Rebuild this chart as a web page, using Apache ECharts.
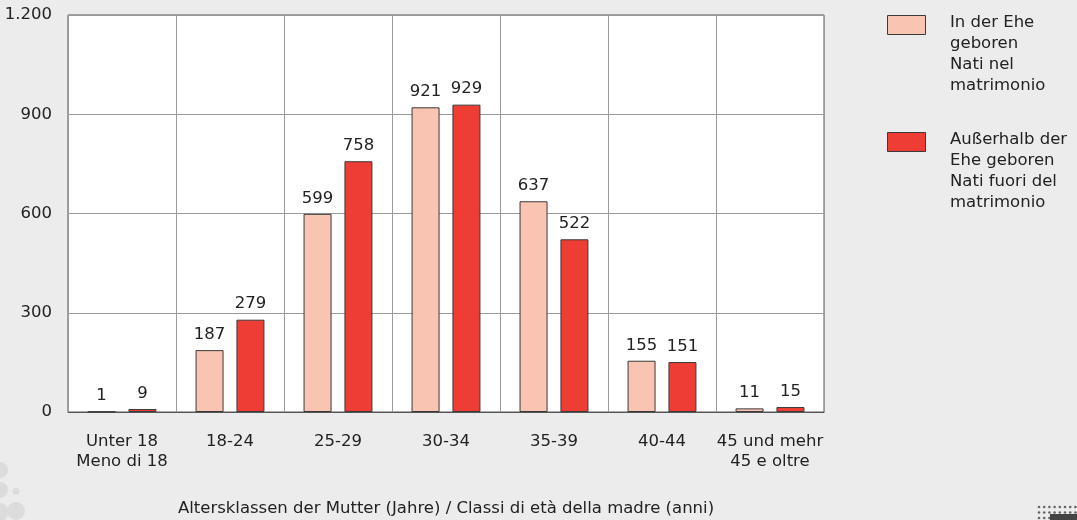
<!DOCTYPE html>
<html>
<head>
    <meta charset="UTF-8">
    <title>Geburten nach Altersklassen der Mutter</title>
    <script src="https://cdn.jsdelivr.net/npm/echarts/dist/echarts.min.js"></script>
    <style>
        html, body { margin: 0; padding: 0; background: #ececec; }
        #chart { width: 1077px; height: 520px; }
    </style>
</head>
<body>
    <div id="chart"></div>

    <script>
        // Daten
        const categories = ['Unter 18\nMeno di 18', '18-24', '25-29', '30-34', '35-39', '40-44', '45 und mehr\n45 e oltre'];
        const inDerEhe = [1, 187, 599, 921, 637, 155, 11];
        const ausserhalb = [9, 279, 758, 929, 522, 151, 15];
        const yTicks = [0, 300, 600, 900, 1200];
        const seriesNames = [
            'In der Ehe\ngeboren\nNati nel\nmatrimonio',
            'Außerhalb der\nEhe geboren\nNati fuori del\nmatrimonio'
        ];
        const colors = ['#f9c4b1', '#ee3d34'];

        const font = 'DejaVu Sans, Verdana, sans-serif';
        const fs = 16.5;
        const myChart = echarts.init(document.getElementById('chart'));

        const labelOpt = {
            show: true,
            position: 'top',
            distance: 7,
            color: '#222',
            fontSize: fs,
            fontFamily: font
        };

        // Legende als Grafik (Icon oben bündig mit erster Zeile)
        const legendGraphic = [];
        seriesNames.forEach((name, i) => {
            const top = 15 + i * 117;
            legendGraphic.push({
                type: 'rect',
                left: 887, top: top,
                shape: { width: 38, height: 19 },
                style: { fill: colors[i], stroke: '#3a3a3a', lineWidth: 1 }
            });
            legendGraphic.push({
                type: 'text',
                left: 950, top: top - 3,
                style: {
                    text: name, fill: '#222', fontSize: fs, fontFamily: font,
                    lineHeight: 21
                }
            });
        });

        // Deko-Kreise unten links
        const deco = [
            { cx: 0, cy: 470, r: 8 }, { cx: 0, cy: 490, r: 8 },
            { cx: 16, cy: 491, r: 3.5 }, { cx: 0, cy: 512, r: 9 },
            { cx: 16, cy: 511, r: 9 }
        ].map(c => ({
            type: 'circle', shape: c, silent: true,
            style: { fill: '#dcdcdc' }
        }));

        // Punktraster unten rechts
        const dots = [];
        for (let row = 0; row < 3; row++) {
            for (let col = 0; col < 8; col++) {
                dots.push({
                    type: 'circle', silent: true,
                    shape: { cx: 1039 + col * 5.2, cy: 507 + row * 5.5, r: 1.3 },
                    style: { fill: '#666' }
                });
            }
        }
        dots.push({
            type: 'rect', silent: true,
            shape: { x: 1050, y: 514, width: 27, height: 6 },
            style: { fill: '#444' }
        });

        const option = {
            backgroundColor: '#ececec',
            animation: false,
            textStyle: { fontFamily: font },
            grid: {
                left: 68, right: 253, top: 15, bottom: 108,
                outerBoundsMode: 'none',
                containLabel: false,
                show: true,
                backgroundColor: '#ffffff',
                borderColor: '#555',
                borderWidth: 1
            },
            xAxis: {
                type: 'category',
                data: categories,
                axisLine: { lineStyle: { color: '#555' } },
                axisTick: { show: false },
                splitLine: { show: true, lineStyle: { color: '#9a9a9a' } },
                axisLabel: {
                    color: '#222', fontSize: fs, lineHeight: 20, margin: 20,
                    interval: 0
                },
                name: 'Altersklassen der Mutter (Jahre) / Classi di età della madre (anni)',
                nameLocation: 'middle',
                nameGap: 88,
                nameTextStyle: { color: '#222', fontSize: fs }
            },
            yAxis: {
                type: 'value',
                min: yTicks[0],
                max: yTicks[yTicks.length - 1],
                interval: 300,
                axisLine: { show: false },
                axisTick: { show: false },
                splitLine: { lineStyle: { color: '#9a9a9a' } },
                axisLabel: {
                    color: '#222', fontSize: fs, margin: 16,
                    formatter: v => String(v).replace(/\B(?=(\d{3})+(?!\d))/g, '.')
                }
            },
            series: [
                {
                    name: seriesNames[0],
                    type: 'bar',
                    data: inDerEhe,
                    barWidth: 28,
                    barGap: '46%',
                    itemStyle: { color: colors[0], borderColor: '#3a3a3a', borderWidth: 1 },
                    label: labelOpt
                },
                {
                    name: seriesNames[1],
                    type: 'bar',
                    data: ausserhalb,
                    barWidth: 28,
                    barGap: '46%',
                    itemStyle: { color: colors[1], borderColor: '#3a3a3a', borderWidth: 1 },
                    label: labelOpt
                }
            ],
            graphic: legendGraphic.concat(deco, dots)
        };

        myChart.setOption(option);
    </script>
</body>
</html>
